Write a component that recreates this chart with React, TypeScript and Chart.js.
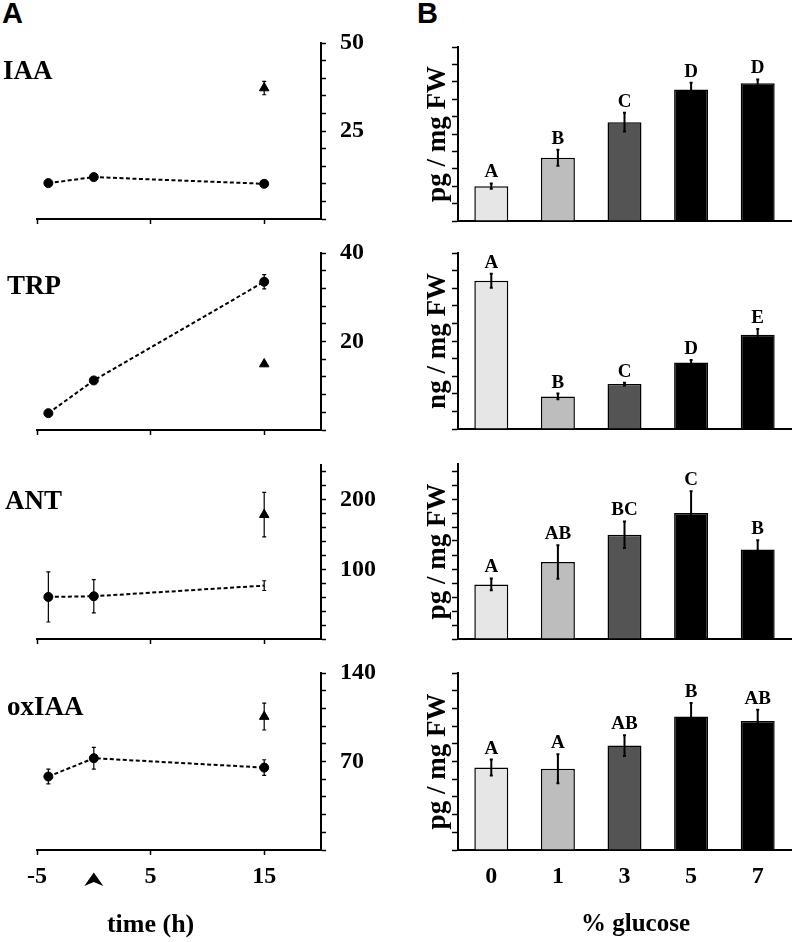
import React, { useEffect, useRef } from 'react';
import { Chart, registerables } from 'chart.js';

Chart.register(...registerables);

const SERIF = "'Liberation Serif', 'Times New Roman', serif";
const SANS = "'Liberation Sans', Arial, sans-serif";

// ---------- Panel A : time course ----------
const hormoneNames = ['IAA', 'TRP', 'ANT', 'oxIAA'];
const timePoints = [-4, 0, 15];
const triangleTime = 15;
const xTickValues = [-5, 5, 15];
const xTickLabels = ['-5', '5', '15'];

const iaaTime = [10.2, 11.9, 10.0];
const iaaTimeErr = [0.4, 0.5, 0.4];
const trpTime = [3.8, 11.2, 33.5];
const trpTimeErr = [0.3, 0.4, 1.6];
const antTime = [60.4, 61.4, 76.7];
const antTimeErr = [36, 24, 7];
const oxTime = [58.1, 72.6, 65.2];
const oxTimeErr = [5.8, 8.6, 6.2];
const circleShown = [
  [true, true, true],
  [true, true, true],
  [true, true, false],
  [true, true, true],
];
const triValues = [37.2, 14.9, 178.6, 105.5];
const triErrors = [1.9, 0.4, 32, 10.6];

const yMax = [50, 40, 250, 140];
const yStep = [5, 4, 20, 14];
const yTickTop = [50, 40, 240, 140];
const yLabeled = [[25, 50], [20, 40], [100, 200], [70, 140]];

// ---------- Panel B : glucose ----------
const glucose = ['0', '1', '3', '5', '7'];
const barColors = ['#e6e6e6', '#bdbdbd', '#545454', '#000000', '#000000'];
const iaaBar = [10.0, 18.2, 28.4, 37.8, 39.6];
const iaaBarErr = [0.75, 2.3, 2.7, 1.9, 1.05];
const iaaLetters = ['A', 'B', 'C', 'D', 'D'];
const trpBar = [33.7, 7.4, 10.2, 15.1, 21.4];
const trpBarErr = [1.6, 0.64, 0.3, 0.6, 1.3];
const trpLetters = ['A', 'B', 'C', 'D', 'E'];
const antBar = [78, 110, 149, 180, 128];
const antBarErr = [8.3, 24, 19, 31, 13];
const antLetters = ['A', 'AB', 'BC', 'C', 'B'];
const oxBar = [65.2, 64.2, 82.6, 105.6, 102];
const oxBarErr = [6.3, 11.5, 8.2, 10.6, 9];
const oxLetters = ['A', 'A', 'AB', 'B', 'AB'];
const barUnits = ['pg / mg FW', 'ng / mg FW', 'pg / mg FW', 'pg / mg FW'];

const timeSeries = [iaaTime, trpTime, antTime, oxTime];
const timeErrs = [iaaTimeErr, trpTimeErr, antTimeErr, oxTimeErr];
const barSeries = [iaaBar, trpBar, antBar, oxBar];
const barErrs = [iaaBarErr, trpBarErr, antBarErr, oxBarErr];
const barLetters = [iaaLetters, trpLetters, antLetters, oxLetters];

// ---------- layout ----------
const leftAreas = [
  { top: 43, bottom: 219 },
  { top: 253, bottom: 430 },
  { top: 465, bottom: 639 },
  { top: 673, bottom: 850 },
];
const rightAreas = [
  { top: 47, bottom: 221 },
  { top: 253, bottom: 429 },
  { top: 464, bottom: 639 },
  { top: 673, bottom: 850 },
];
const nameY = [72, 287, 502, 708];
const nameX = [3, 7, 5, 7];
const PADTOP = 40;

function ticksOf(top: number, step: number) {
  const out: number[] = [];
  for (let k = 0; k * step <= top + 1e-9; k++) out.push(Math.round(k * step * 1000) / 1000);
  return out;
}

const fontObj = (size: number) => ({ family: SERIF, size, weight: 'bold' as const });

function leftConfig(i: number) {
  const area = leftAreas[i];
  const last = i === 3;
  const canvasTop = area.top - PADTOP;
  const plotH = area.bottom - area.top;
  const xH = last ? 92 : 14;
  const canvasH = PADTOP + plotH + xH;
  const series = timeSeries[i];
  const errs = timeErrs[i];
  const yTicks = ticksOf(yTickTop[i], yStep[i]);

  const plugin = {
    id: 'leftDecor' + i,
    afterDatasetsDraw(chart: any) {
      const { ctx } = chart;
      const x = chart.scales.x;
      const y = chart.scales.y;
      ctx.save();
      ctx.strokeStyle = '#000';
      ctx.lineWidth = 1.2;
      const drawErr = (xv: number, v: number, e: number) => {
        const px = x.getPixelForValue(xv);
        const a = y.getPixelForValue(v + e);
        const b = y.getPixelForValue(v - e);
        ctx.beginPath();
        ctx.moveTo(px, a); ctx.lineTo(px, b);
        ctx.moveTo(px - 2, a); ctx.lineTo(px + 2, a);
        ctx.moveTo(px - 2, b); ctx.lineTo(px + 2, b);
        ctx.stroke();
      };
      timePoints.forEach((t, j) => drawErr(t, series[j], errs[j]));
      drawErr(triangleTime, triValues[i], triErrors[i]);

      ctx.fillStyle = '#000';
      ctx.font = `bold 27px ${SERIF}`;
      ctx.textAlign = 'left';
      ctx.textBaseline = 'middle';
      ctx.fillText(hormoneNames[i], nameX[i], nameY[i] - canvasTop);

      if (last) {
        const ax = x.getPixelForValue(0);
        const ty = 872.5 - canvasTop;
        ctx.beginPath();
        ctx.moveTo(ax, ty);
        ctx.lineTo(ax + 9.5, ty + 13.5);
        ctx.lineTo(ax, ty + 9.5);
        ctx.lineTo(ax - 9.5, ty + 13.5);
        ctx.closePath();
        ctx.fill();
        ctx.font = `bold 26px ${SERIF}`;
        ctx.textAlign = 'center';
        ctx.fillText('time (h)', x.getPixelForValue(5), 925 - canvasTop);
      }
      ctx.restore();
    },
  };

  const config: any = {
    type: 'scatter',
    data: {
      datasets: [
        {
          data: timePoints.map((t, j) => ({ x: t, y: series[j] })),
          showLine: true,
          fill: false,
          borderColor: '#000',
          borderWidth: 2,
          borderDash: [4, 2.5],
          pointStyle: 'circle',
          pointRadius: circleShown[i].map((s) => (s ? 4.5 : 0)),
          pointBorderWidth: 1,
          pointBackgroundColor: '#000',
          pointBorderColor: '#000',
        },
        {
          data: [{ x: triangleTime, y: triValues[i] }],
          pointStyle: 'triangle',
          pointRadius: 5.5,
          pointBorderWidth: 1,
          pointBackgroundColor: '#000',
          pointBorderColor: '#000',
        },
      ],
    },
    options: {
      animation: false,
      responsive: false,
      devicePixelRatio: 1,
      layout: { padding: { left: 37, right: 19, top: PADTOP, bottom: 0 } },
      plugins: { legend: { display: false }, tooltip: { enabled: false } },
      scales: {
        x: {
          type: 'linear',
          position: 'bottom',
          min: -5,
          max: 20,
          afterBuildTicks: (s: any) => { s.ticks = xTickValues.map((v) => ({ value: v })); },
          afterFit: (s: any) => {
            s.height = xH;
            s.paddingLeft = 0; s.paddingRight = 0; s.paddingTop = 0; s.paddingBottom = 0;
          },
          grid: { drawOnChartArea: false, drawTicks: true, tickLength: 5, tickColor: '#000', tickWidth: 1.5 },
          border: { display: true, color: '#000', width: 2 },
          ticks: {
            autoSkip: false,
            maxRotation: 0,
            color: '#000',
            font: fontObj(24),
            padding: 7,
            callback: (v: any) => (last ? xTickLabels[xTickValues.indexOf(Number(v))] ?? '' : ''),
          },
        },
        y: {
          type: 'linear',
          position: 'right',
          min: 0,
          max: yMax[i],
          afterBuildTicks: (s: any) => { s.ticks = yTicks.map((v) => ({ value: v })); },
          afterFit: (s: any) => {
            s.width = 60;
            s.paddingLeft = 0; s.paddingRight = 0; s.paddingTop = 0; s.paddingBottom = 0;
          },
          grid: { drawOnChartArea: false, drawTicks: true, tickLength: 5, tickColor: '#000', tickWidth: 1.5 },
          border: { display: true, color: '#000', width: 2 },
          ticks: {
            autoSkip: false,
            color: '#000',
            font: fontObj(24),
            padding: 14,
            callback: (v: any) => (yLabeled[i].includes(Number(v)) ? String(v) : ''),
          },
        },
      },
    },
    plugins: [plugin],
  };
  return { config, left: 0, top: canvasTop, width: 400, height: canvasH };
}

function rightConfig(i: number) {
  const area = rightAreas[i];
  const last = i === 3;
  const canvasTop = area.top - PADTOP;
  const plotH = area.bottom - area.top;
  const xH = last ? 92 : 14;
  const canvasH = PADTOP + plotH + xH;
  const vals = barSeries[i];
  const errs = barErrs[i];
  const letters = barLetters[i];
  const yTicks = ticksOf(yTickTop[i], yStep[i]);

  const plugin = {
    id: 'rightDecor' + i,
    afterDatasetsDraw(chart: any) {
      const { ctx } = chart;
      const y = chart.scales.y;
      const meta = chart.getDatasetMeta(0);
      ctx.save();
      ctx.strokeStyle = '#000';
      ctx.fillStyle = '#000';
      ctx.lineWidth = 2;
      ctx.font = `bold 19px ${SERIF}`;
      ctx.textAlign = 'center';
      ctx.textBaseline = 'middle';
      meta.data.forEach((bar: any, j: number) => {
        const px = bar.x;
        const a = y.getPixelForValue(vals[j] + errs[j]);
        const b = y.getPixelForValue(vals[j] - errs[j]);
        ctx.beginPath();
        ctx.moveTo(px, a); ctx.lineTo(px, b);
        ctx.moveTo(px - 1.5, a); ctx.lineTo(px + 1.5, a);
        ctx.moveTo(px - 1.5, b); ctx.lineTo(px + 1.5, b);
        ctx.stroke();
        ctx.fillText(letters[j], px, a - 11);
      });
      if (last) {
        const ca = chart.chartArea;
        ctx.font = `bold 25px ${SERIF}`;
        ctx.fillText('% glucose', (ca.left + ca.right) / 2 + 11, 925 - canvasTop);
      }
      ctx.restore();
    },
  };

  const config: any = {
    type: 'bar',
    data: {
      labels: glucose,
      datasets: [
        {
          data: vals,
          backgroundColor: barColors,
          borderColor: '#000',
          borderWidth: 1.5,
          categoryPercentage: 1,
          barPercentage: 0.51,
        },
      ],
    },
    options: {
      animation: false,
      responsive: false,
      devicePixelRatio: 1,
      layout: { padding: { left: 17.8, right: 6, top: PADTOP, bottom: 0 } },
      plugins: { legend: { display: false }, tooltip: { enabled: false } },
      scales: {
        x: {
          type: 'category',
          position: 'bottom',
          afterFit: (s: any) => {
            s.height = xH;
            s.paddingLeft = 0; s.paddingRight = 0; s.paddingTop = 0; s.paddingBottom = 0;
          },
          grid: { drawOnChartArea: false, drawTicks: false },
          border: { display: true, color: '#000', width: 2 },
          ticks: {
            autoSkip: false,
            maxRotation: 0,
            color: '#000',
            font: fontObj(24),
            padding: 12,
            callback: (_v: any, idx: number) => (last ? glucose[idx] : ''),
          },
        },
        y: {
          type: 'linear',
          position: 'left',
          min: 0,
          max: yMax[i],
          afterBuildTicks: (s: any) => { s.ticks = yTicks.map((v) => ({ value: v })); },
          afterFit: (s: any) => {
            s.width = 40.2;
            s.paddingLeft = 0; s.paddingRight = 0; s.paddingTop = 0; s.paddingBottom = 0;
          },
          grid: { drawOnChartArea: false, drawTicks: true, tickLength: 6, tickColor: '#000', tickWidth: 1.5 },
          border: { display: true, color: '#000', width: 2 },
          ticks: { autoSkip: false, color: '#000', font: fontObj(12), callback: () => '' },
          title: {
            display: true,
            text: barUnits[i],
            color: '#000',
            font: fontObj(27),
            padding: { top: 4, bottom: 4 },
          },
        },
      },
    },
    plugins: [plugin],
  };
  return { config, left: 400, top: canvasTop, width: 397, height: canvasH };
}

function ChartBox({ make }: { make: () => any }) {
  const ref = useRef<HTMLCanvasElement>(null);
  const spec = make();
  useEffect(() => {
    const s = make();
    const chart = new Chart(ref.current as HTMLCanvasElement, s.config);
    return () => chart.destroy();
  }, []);
  return (
    <canvas
      ref={ref}
      width={spec.width}
      height={spec.height}
      style={{ position: 'absolute', left: spec.left, top: spec.top, width: spec.width, height: spec.height }}
    />
  );
}

export default function App() {
  return (
    <div style={{ position: 'absolute', left: 0, top: 0, width: 797, height: 942, background: '#fff', overflow: 'hidden' }}>
      <span style={{ position: 'absolute', left: 2, top: -1, font: `bold 29px ${SANS}`, lineHeight: 1, color: '#000' }}>A</span>
      <span style={{ position: 'absolute', left: 417, top: -1, font: `bold 29px ${SANS}`, lineHeight: 1, color: '#000' }}>B</span>
      {[0, 1, 2, 3].map((i) => (
        <ChartBox key={'l' + i} make={() => leftConfig(i)} />
      ))}
      {[0, 1, 2, 3].map((i) => (
        <ChartBox key={'r' + i} make={() => rightConfig(i)} />
      ))}
    </div>
  );
}
